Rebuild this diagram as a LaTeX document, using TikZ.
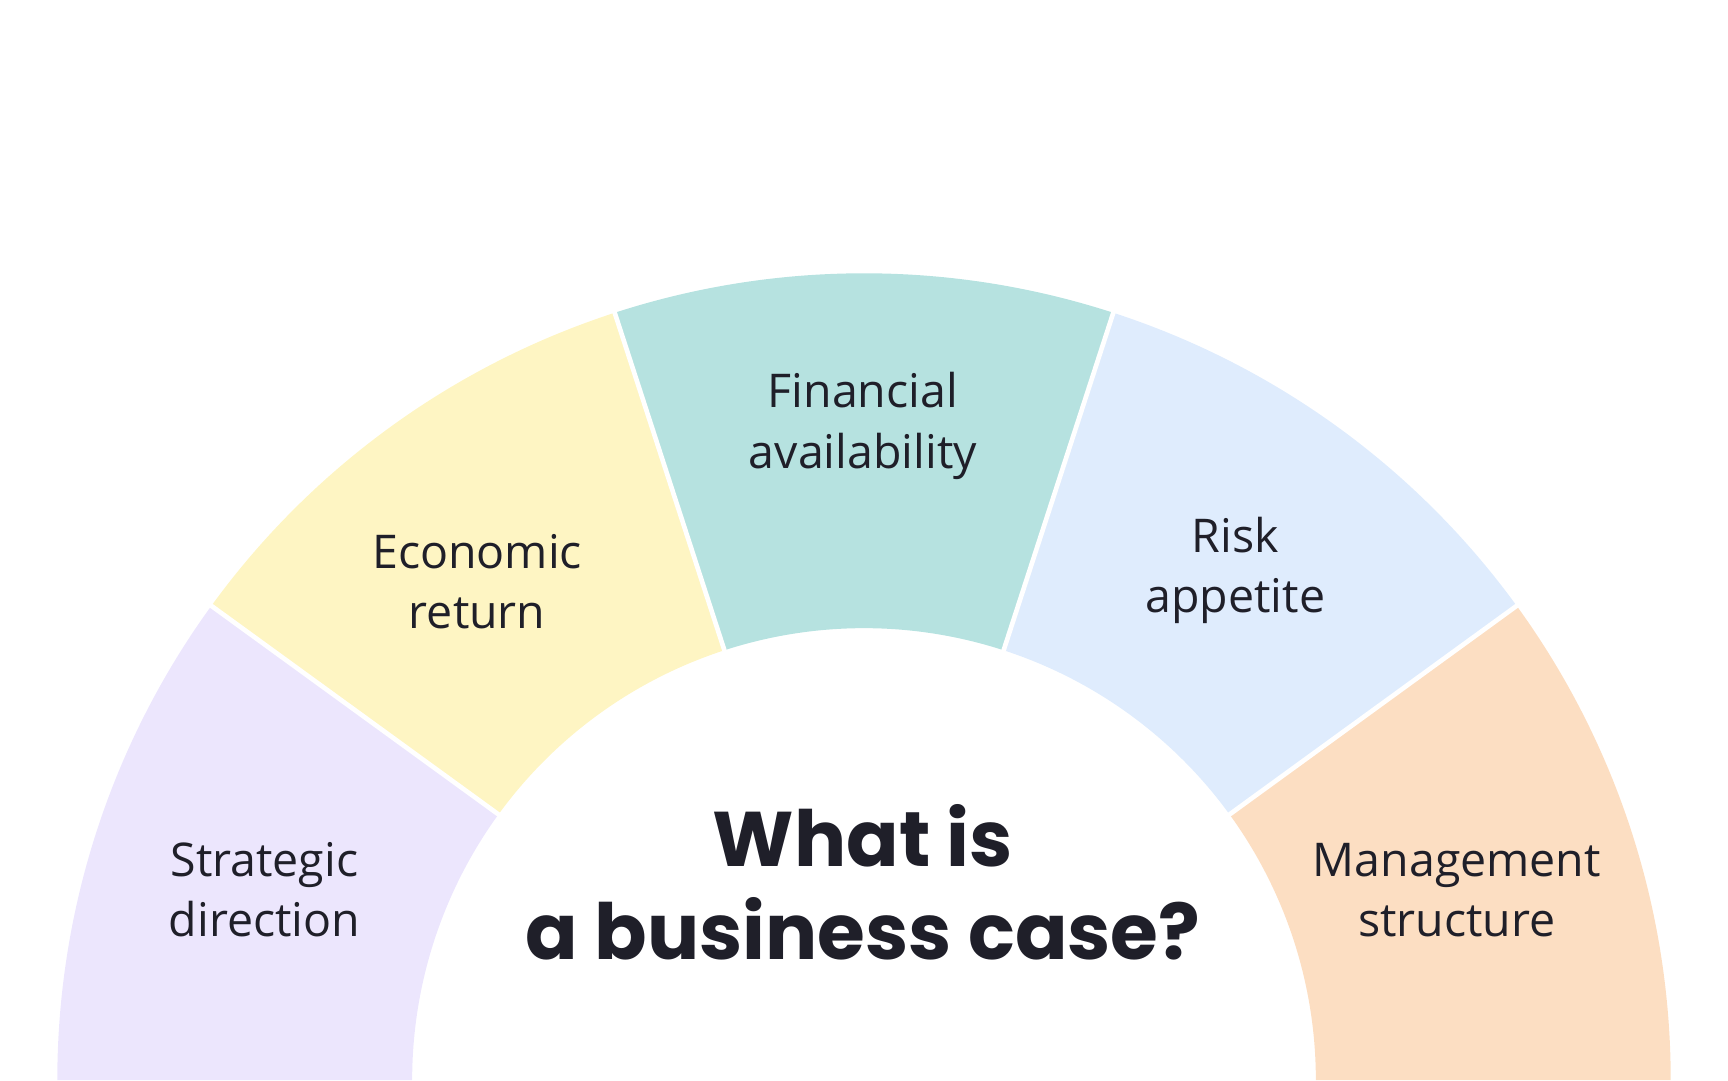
\documentclass[tikz,border=0pt]{standalone}
\usepackage{fontspec}
\setmainfont{Open Sans}
\newfontfamily\titlefont{Poppins}[BoldFont={* Bold}]
\definecolor{cpur}{HTML}{ECE6FD}
\definecolor{cyel}{HTML}{FEF5C3}
\definecolor{cteal}{HTML}{B6E2E0}
\definecolor{cblue}{HTML}{DFECFD}
\definecolor{cpea}{HTML}{FCDEC2}
\definecolor{ink}{HTML}{1F1F29}
\tikzset{lbl/.style={align=center,text=ink,font=\fontsize{24}{31}\selectfont},
 ttl/.style={align=center,text=ink,font=\titlefont\bfseries\fontsize{40}{48}\selectfont}}
\begin{document}
\begin{tikzpicture}
\useasboundingbox (0,0) rectangle (31.36,19.6);
\coordinate (C) at (15.68,0);
\foreach \a/\c in {0/cpea,36/cblue,72/cteal,108/cyel,144/cpur}{
 \pgfmathsetmacro\b{\a+36}
 \fill[\c] ([shift={(\a:8.2)}]C) -- ([shift={(\a:14.64)}]C) arc[start angle=\a,end angle=\b,radius=14.64] -- ([shift={(\b:8.2)}]C) arc[start angle=\b,end angle=\a,radius=8.2] -- cycle;
}
\foreach \a in {36,72,108,144}
 \draw[white,line width=2.4pt] ([shift={(\a:8.0)}]C) -- ([shift={(\a:14.9)}]C);
\node[lbl] (s) at (4.8,3.45) {Strategic\\direction};
\node[lbl] (e) at (8.66,9.05) {Economic\\return};
\node[lbl] (f) at (15.66,11.87) {Financial\\availability};
\node[lbl] (r) at (22.42,9.25) {Risk\\appetite};
\node[lbl] (m) at (26.44,3.45) {Management\\structure};
\node[ttl] (t) at (15.66,3.58) {What is\\a business case?};
\end{tikzpicture}
\end{document}
